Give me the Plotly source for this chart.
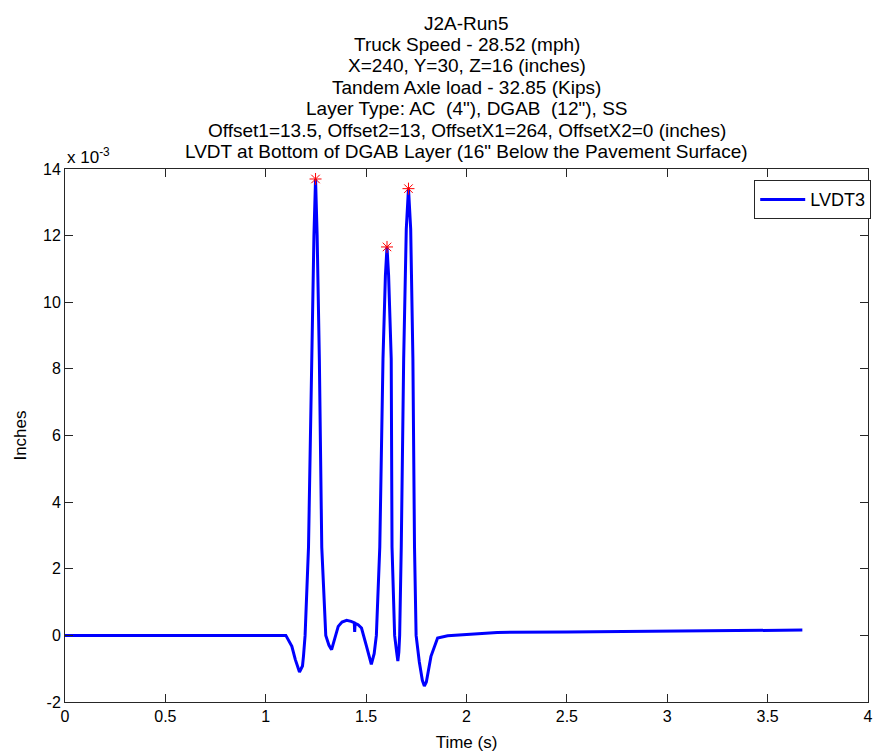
import plotly.graph_objects as go

# Time (s)
time_s = [0.00, 0.30, 0.60, 0.90, 1.05, 1.10, 1.130, 1.147, 1.168, 1.183, 1.188,
          1.196, 1.213, 1.229, 1.240, 1.248, 1.256, 1.267, 1.279, 1.299, 1.315,
          1.328, 1.345, 1.361, 1.380, 1.403, 1.425, 1.441, 1.443, 1.445, 1.460,
          1.477, 1.502, 1.515, 1.526, 1.540, 1.551, 1.568, 1.584, 1.596, 1.604,
          1.612, 1.625, 1.629, 1.642, 1.652, 1.658, 1.663, 1.667, 1.675, 1.687,
          1.700, 1.711, 1.722, 1.733, 1.741, 1.749, 1.765, 1.780, 1.790, 1.800,
          1.823, 1.856, 1.906, 1.988, 2.153, 2.500, 3.000, 3.400, 3.673]
# LVDT3 displacement (x 10^-3 inches)
lvdt3 = [0.00, 0.00, 0.00, 0.00, 0.00, 0.00, -0.33, -0.72, -1.10, -0.92, -0.62,
         0.00, 2.65, 8.30, 12.00, 13.70, 12.00, 8.30, 2.65, 0.00, -0.30,
         -0.43, -0.10, 0.27, 0.40, 0.45, 0.42, 0.38, 0.10, 0.36, 0.32,
         0.22, -0.33, -0.65, -0.87, -0.55, 0.00, 2.65, 8.30, 10.80, 11.66,
         10.80, 8.30, 2.65, 0.00, -0.50, -0.77, -0.50, 0.00, 2.65, 8.30,
         12.20, 13.41, 12.20, 8.30, 2.65, 0.00, -0.80, -1.35, -1.52, -1.40,
         -0.63, -0.08, -0.01, 0.02, 0.09, 0.10, 0.13, 0.15, 0.16]
# Detected peaks
peak_t = [1.248, 1.604, 1.711]
peak_v = [13.70, 11.66, 13.41]

title_lines = [
    "J2A-Run5",
    "Truck Speed - 28.52 (mph)",
    "X=240, Y=30, Z=16 (inches)",
    "Tandem Axle load - 32.85 (Kips)",
    "Layer Type: AC  (4\"), DGAB  (12\"), SS",
    "Offset1=13.5, Offset2=13, OffsetX1=264, OffsetX2=0 (inches)",
    "LVDT at Bottom of DGAB Layer (16\" Below the Pavement Surface)",
]
x_ticks = [0, 0.5, 1, 1.5, 2, 2.5, 3, 3.5, 4]
y_ticks = [-2, 0, 2, 4, 6, 8, 10, 12, 14]

FONT = "Liberation Sans, Arial, sans-serif"
AXC = "#262626"
W, H = 881, 756
ML, MR, MT, MB = 65, 8, 169, 50
PLOT_H = H - MT - MB

fig = go.Figure()
fig.add_trace(go.Scatter(x=time_s, y=lvdt3, mode="lines", name="LVDT3",
                         line=dict(color="#0000FF", width=3)))
fig.add_trace(go.Scatter(x=peak_t, y=peak_v, mode="markers", showlegend=False,
                         marker=dict(symbol="asterisk-open", color="#FF0000", size=10,
                                     line=dict(color="#FF0000", width=1))))

axis_common = dict(showline=True, linecolor=AXC, linewidth=1, mirror="ticks",
                   ticks="inside", ticklen=8, tickcolor=AXC, showgrid=False,
                   zeroline=False, tickfont=dict(family=FONT, size=16, color="black"))

fig.update_layout(
    width=W, height=H,
    margin=dict(l=ML, r=MR, t=MT, b=MB),
    paper_bgcolor="white", plot_bgcolor="white",
    font=dict(family=FONT, color="black"),
    xaxis=dict(range=[0, 4], tickvals=x_ticks, ticktext=[str(t) for t in x_ticks],
               title=dict(text="Time (s)", font=dict(family=FONT, size=17), standoff=11),
               **axis_common),
    yaxis=dict(range=[-2, 14], tickvals=y_ticks, ticktext=[str(t) for t in y_ticks],
               title=dict(text="Inches", font=dict(family=FONT, size=17), standoff=12),
               **axis_common),
    legend=dict(x=1.004, y=0.979, xanchor="right", yanchor="top",
                bordercolor=AXC, borderwidth=1, bgcolor="white",
                itemwidth=45,
                font=dict(family=FONT, size=18)),
    showlegend=True,
)

# title lines, one annotation per line (cap centres)
first_center, spacing = 20.5, 21.6
for i, line in enumerate(title_lines):
    cy = first_center + spacing * i + 1.5
    fig.add_annotation(text=line, xref="paper", yref="paper",
                       x=0.5, y=(H - MB - cy) / PLOT_H, xanchor="center", yanchor="middle",
                       showarrow=False, align="center",
                       font=dict(family=FONT, size=19, color="black"))
fig.add_annotation(text="x 10<sup>-3</sup>", xref="paper", yref="paper",
                   x=0, y=1, xanchor="left", yanchor="bottom", yshift=0,
                   showarrow=False, font=dict(family=FONT, size=17, color="black"))

fig.write_html("out.html")
